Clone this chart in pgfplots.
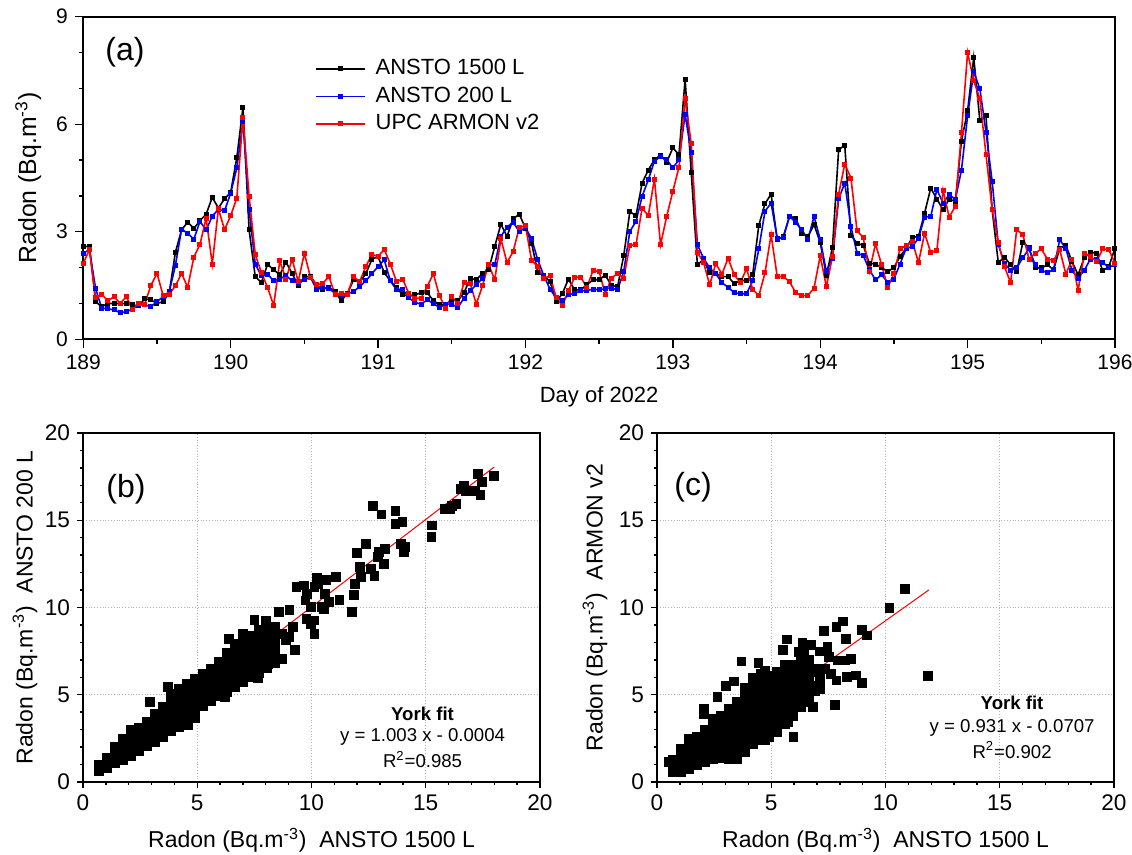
\documentclass[border=0pt]{standalone}
\usepackage{fontspec}
\setmainfont{Liberation Sans}
\usepackage{pgfplots}
\usepackage{pgfplotstable}
\pgfplotsset{compat=1.18}

% hour index h (day = 189 + h/24); a = ANSTO 1500 L, b = ANSTO 200 L, c = UPC ARMON v2
\pgfplotstableread{
h a b c
0 2.59 2.40 2.12
1 2.59 2.50 2.50
2 1.05 1.42 1.16
3 0.91 0.87 1.26
4 1.00 0.85 1.07
5 1.00 0.82 1.19
6 1.00 0.74 1.00
7 0.99 0.77 1.19
8 0.96 0.84 0.84
9 0.93 0.96 0.99
10 1.13 0.96 0.98
11 1.10 0.91 1.50
12 1.00 1.05 1.84
13 1.05 1.19 1.22
14 1.30 1.33 1.26
15 2.43 2.06 1.49
16 3.05 3.07 1.84
17 3.27 2.96 1.45
18 3.09 2.79 2.29
19 3.31 3.29 2.65
20 3.49 3.05 3.38
21 3.96 3.43 2.10
22 3.66 3.63 3.64
23 3.92 3.58 3.06
24 4.10 4.08 3.45
25 5.07 4.78 3.94
26 6.47 6.08 6.20
27 3.05 3.61 3.99
28 1.75 2.10 2.37
29 1.58 1.77 1.86
30 2.09 1.82 1.45
31 1.94 1.63 0.94
32 1.80 1.68 2.19
33 2.15 1.78 1.68
34 1.84 1.63 2.23
35 1.50 1.56 1.61
36 1.75 1.66 2.40
37 1.75 1.73 1.73
38 1.52 1.38 1.52
39 1.40 1.45 1.56
40 1.45 1.42 1.75
41 1.33 1.28 1.24
42 1.08 1.21 1.28
43 1.27 1.27 1.26
44 1.66 1.33 1.75
45 1.59 1.47 1.61
46 1.83 1.63 2.03
47 2.23 1.83 2.37
48 2.31 2.03 2.31
49 1.86 2.22 2.51
50 1.63 1.63 2.10
51 1.45 1.38 1.61
52 1.24 1.40 1.68
53 1.21 1.16 1.28
54 1.24 1.03 1.15
55 1.30 0.98 1.15
56 1.30 1.10 1.47
57 1.08 1.00 1.83
58 0.96 0.89 1.21
59 0.96 0.98 0.87
60 1.12 0.98 1.19
61 1.08 0.89 0.99
62 1.30 1.15 1.58
63 1.70 1.36 1.56
64 1.66 1.52 0.98
65 1.84 1.70 1.49
66 1.94 2.08 2.09
67 2.59 2.08 1.66
68 3.21 2.87 2.80
69 2.87 3.13 2.14
70 3.36 3.27 2.45
71 3.49 3.00 3.12
72 3.10 3.12 3.17
73 2.68 2.80 2.20
74 1.87 2.22 2.03
75 1.77 1.77 1.70
76 1.61 1.40 1.77
77 1.05 1.16 1.17
78 1.27 1.07 0.94
79 1.68 1.24 1.35
80 1.38 1.28 1.73
81 1.38 1.35 1.73
82 1.52 1.36 1.45
83 1.66 1.40 1.92
84 1.66 1.38 1.89
85 1.79 1.41 1.26
86 1.50 1.43 1.71
87 1.47 1.38 1.83
88 2.33 1.89 1.71
89 3.56 3.01 2.62
90 3.45 3.29 2.64
91 4.36 3.99 3.66
92 4.72 4.45 3.45
93 5.01 4.97 4.47
94 5.14 5.10 2.64
95 4.94 5.01 3.43
96 5.34 4.78 4.13
97 5.15 5.01 4.80
98 7.25 6.27 6.72
99 4.64 5.20 5.45
100 2.08 2.64 2.42
101 2.22 2.26 2.15
102 1.85 1.99 1.52
103 1.83 1.83 2.11
104 1.75 1.58 1.82
105 1.75 1.45 2.26
106 1.55 1.30 1.80
107 1.64 1.27 1.58
108 1.64 1.27 1.97
109 1.80 1.63 1.40
110 3.18 2.52 1.21
111 3.78 3.57 1.85
112 4.05 3.80 2.92
113 2.78 2.82 1.75
114 2.87 2.84 1.75
115 3.43 3.43 1.61
116 3.38 3.26 1.30
117 2.96 3.06 1.22
118 2.87 2.78 1.22
119 3.20 3.43 1.43
120 2.70 2.78 2.33
121 1.78 1.89 1.47
122 2.57 2.26 2.31
123 5.29 3.92 4.05
124 5.41 4.36 4.89
125 2.90 3.15 4.50
126 2.68 2.40 3.03
127 2.62 2.34 2.84
128 2.12 1.94 1.89
129 2.10 1.66 2.66
130 2.00 1.80 2.08
131 1.89 1.59 1.45
132 2.00 1.68 1.83
133 2.31 2.10 2.53
134 2.54 2.54 2.61
135 2.84 2.59 2.73
136 2.87 2.82 2.14
137 3.52 3.41 2.96
138 4.22 3.43 2.42
139 3.91 4.18 2.48
140 3.62 3.80 4.16
141 3.91 4.04 3.41
142 3.85 3.90 3.71
143 5.53 4.72 5.76
144 6.37 6.23 8.00
145 7.86 7.46 7.22
146 6.10 6.99 6.71
147 6.23 5.78 5.15
148 3.62 4.41 3.62
149 2.14 2.64 2.71
150 2.29 2.12 2.03
151 2.08 1.92 1.58
152 1.89 1.99 3.06
153 2.71 2.28 2.92
154 2.56 2.52 2.24
155 1.99 2.08 2.40
156 1.99 1.92 2.52
157 2.08 1.86 2.24
158 1.94 1.94 2.20
159 2.54 2.78 2.50
160 2.62 2.53 1.82
161 2.17 1.92 2.22
162 1.80 1.71 1.36
163 2.27 1.92 2.39
164 2.43 2.24 2.31
165 2.40 2.24 2.17
166 1.91 2.14 2.52
167 2.03 2.01 2.50
168 2.54 2.08 2.12
}\tsdata

% (b) ANSTO 1500 L (x) vs ANSTO 200 L (y)
\pgfplotstableread{
x y
0.7 0.65
0.7 1.0
1.05 0.8
1.05 1.1
1.05 1.4
1.4 1.1
1.4 1.55
1.4 2.0
1.75 1.25
1.75 1.6
1.75 2.05
1.75 2.5
2.1 1.5
2.1 1.9
2.1 2.4
2.1 2.8
2.1 3.0
2.45 1.8
2.45 2.17
2.45 2.65
2.45 3.1
2.8 2.05
2.8 2.44
2.8 2.95
2.8 3.45
3.15 2.3
3.15 2.72
3.15 3.2
3.15 3.65
3.15 3.9
3.5 2.6
3.5 3.0
3.5 3.45
3.5 3.9
3.5 4.3
3.85 2.9
3.85 3.26
3.85 3.75
3.85 4.25
3.85 4.7
3.85 5.05
4.2 3.15
4.2 3.54
4.2 4.0
4.2 4.5
4.2 5.0
4.2 5.35
4.55 3.4
4.55 3.81
4.55 4.3
4.55 4.8
4.55 5.3
4.55 5.6
4.9 3.65
4.9 4.08
4.9 4.55
4.9 5.05
4.9 5.55
4.9 5.9
5.25 4.36
5.25 4.85
5.25 5.35
5.25 5.8
5.25 6.2
5.6 4.63
5.6 5.1
5.6 5.6
5.6 6.1
5.6 6.5
5.95 4.9
5.95 5.4
5.95 5.9
5.95 6.4
5.95 6.9
6.3 5.17
6.3 5.65
6.3 6.15
6.3 6.65
6.3 7.1
6.3 7.4
6.65 5.45
6.65 5.95
6.65 6.45
6.65 6.95
6.65 7.45
6.65 7.9
7.0 5.72
7.0 6.2
7.0 6.7
7.0 7.2
7.0 7.7
7.0 8.1
7.35 6.0
7.35 6.5
7.35 7.0
7.35 7.5
7.35 8.0
7.35 8.4
7.7 6.27
7.7 6.75
7.7 7.25
7.7 7.75
7.7 8.25
7.7 8.7
8.05 6.54
8.05 7.0
8.05 7.5
8.05 8.0
8.05 8.5
8.05 8.9
8.4 6.81
8.4 7.3
8.4 7.8
8.4 8.3
8.4 8.8
12.70 15.80
13.06 15.34
13.67 15.53
13.67 14.80
13.98 14.90
15.28 14.70
15.25 14.04
15.83 15.66
16.14 15.80
16.34 15.95
16.06 15.66
16.53 16.80
16.66 17.00
16.77 16.68
17.16 16.68
17.28 17.67
17.47 17.19
17.39 16.43
17.98 17.52
12.39 13.66
12.94 13.18
13.20 13.37
13.17 12.51
12.90 12.90
13.90 13.66
14.03 13.18
14.10 13.47
11.97 13.12
12.13 12.32
12.59 12.23
12.75 11.80
12.16 11.75
11.89 11.37
11.84 10.70
11.77 9.74
11.22 10.45
11.06 11.75
10.64 11.60
10.25 11.71
10.28 11.37
10.60 10.80
10.56 9.93
10.13 11.17
9.66 11.27
9.34 11.17
9.73 10.41
9.97 10.03
10.13 8.50
9.97 9.07
9.78 9.36
9.27 7.55
9.03 9.84
8.56 9.74
8.02 9.26
7.50 9.30
8.40 8.88
8.88 8.12
9.03 8.31
8.72 7.07
7.66 5.96
6.22 4.87
3.72 5.44
4.58 3.25
2.94 4.58
6.38 8.21
7.00 8.50
7.31 8.31
8.25 7.35
8.09 6.78
9.19 8.88
8.72 8.50
10.13 9.26
10.44 10.03
10.75 10.32
9.81 10.79
}\scatb

% (c) ANSTO 1500 L (x) vs ARMON v2 (y)
\pgfplotstableread{
x y
0.7 0.55
0.7 1.0
0.7 1.3
1.05 0.6
1.05 1.05
1.05 1.5
1.05 1.9
1.4 0.75
1.4 1.2
1.4 1.7
1.4 2.2
1.4 2.5
1.75 0.95
1.75 1.4
1.75 1.9
1.75 2.35
1.75 2.6
2.1 1.15
2.1 1.6
2.1 2.1
2.1 2.55
2.1 3.0
2.45 1.3
2.45 1.8
2.45 2.3
2.45 2.75
2.45 3.2
2.45 3.6
2.8 1.4
2.8 1.9
2.8 2.4
2.8 2.9
2.8 3.4
2.8 3.8
3.15 1.3
3.15 1.8
3.15 2.3
3.15 2.8
3.15 3.3
3.15 3.8
3.15 4.2
3.5 1.3
3.5 1.6
3.5 2.1
3.5 2.6
3.5 3.1
3.5 3.6
3.5 4.1
3.5 4.6
3.85 1.7
3.85 2.0
3.85 2.5
3.85 3.0
3.85 3.5
3.85 4.0
3.85 4.5
3.85 5.0
3.85 5.4
4.2 2.2
4.2 2.7
4.2 3.2
4.2 3.7
4.2 4.2
4.2 4.7
4.2 5.2
4.2 5.6
4.55 2.4
4.55 2.9
4.55 3.4
4.55 3.9
4.55 4.4
4.55 4.9
4.55 5.4
4.55 5.8
4.55 6.2
4.9 2.6
4.9 3.1
4.9 3.6
4.9 4.1
4.9 4.6
4.9 5.1
4.9 5.6
4.9 6.1
5.25 2.9
5.25 3.4
5.25 3.9
5.25 4.4
5.25 4.9
5.25 5.4
5.25 5.9
5.25 6.3
5.6 3.3
5.6 3.8
5.6 4.3
5.6 4.8
5.6 5.3
5.6 5.8
5.6 6.3
5.6 6.7
5.95 3.8
5.95 4.3
5.95 4.8
5.95 5.3
5.95 5.8
5.95 6.3
5.95 6.7
6.3 4.3
6.3 4.8
6.3 5.3
6.3 5.8
6.3 6.3
6.3 6.7
6.3 7.0
6.65 4.6
6.65 5.1
6.65 5.6
6.65 6.1
6.65 6.6
6.65 7.0
7.0 5.5
7.0 6.3
7.35 6.5
7.6 6.2
0.52 1.15
2.04 4.20
2.04 3.91
2.64 4.87
3.03 5.53
3.38 5.76
3.69 6.91
4.44 6.83
4.71 6.39
4.21 5.95
5.51 7.56
5.68 8.17
6.20 7.44
6.36 7.98
6.72 7.86
6.44 7.44
7.14 7.48
7.30 8.64
7.85 8.91
8.15 9.20
7.54 7.16
7.46 7.73
7.93 6.97
8.24 6.97
8.48 7.06
8.27 8.21
8.95 8.72
9.18 8.40
8.71 6.11
8.95 5.69
8.32 6.01
7.85 5.82
7.14 5.92
6.91 5.19
6.83 4.30
7.77 4.43
5.97 2.58
5.73 3.43
5.26 2.86
4.71 2.39
10.17 9.98
10.86 11.07
11.85 6.07
6.67 6.87
6.99 6.49
7.14 5.34
}\scatc

\begin{document}
\begin{tikzpicture}
\path[use as bounding box] (0,0) rectangle (566pt,-427.5pt);
\pgfplotsset{
  every axis/.append style={
    scale only axis,
    axis line style={line width=0.9pt},
    every tick/.style={line width=0.7pt, black},
    tick align=outside,
    xtick pos=bottom, ytick pos=left,
    /pgf/number format/assume math mode=true,
    clip=true,
  },
}
% ---------------- (a) ----------------
\begin{axis}[
  at={(41.65pt,-169.65pt)}, anchor=south west,
  width=515.85pt, height=161.3pt,
  xmin=189, xmax=196, ymin=0, ymax=9,
  xtick={189,190,...,196}, ytick={0,3,6,9},
  minor x tick num=1, minor y tick num=2,
  major tick length=4.2pt, minor tick length=2.2pt,
  ticklabel style={font=\fontsize{10.5}{12}\selectfont},
  xlabel={Day of 2022},
  ylabel={Radon (Bq.m\textsuperscript{-3})},
  xlabel style={font=\fontsize{11}{13}\selectfont, at={(axis description cs:0.5,-0.1944)}, anchor=base},
  ylabel style={font=\fontsize{12.4}{14}\selectfont, at={(axis description cs:-0.0533,0.5)}, anchor=center},
  legend style={at={(axis cs:190.57,7.89)}, anchor=north west, draw=none, fill=none,
    font=\fontsize{11}{13}\selectfont, inner sep=0pt, row sep=1.75pt, column sep=4pt,
    nodes={inner sep=1pt, text height=8pt, text depth=2pt}},
  legend cell align=left,
  legend image code/.code={\draw[mark repeat=2,mark phase=2,#1] plot coordinates {(0cm,0cm) (0.43cm,0cm) (0.86cm,0cm)};},
]
\addplot[black, line width=0.8pt, mark=square*, mark size=0.85pt] table[x expr=189+\thisrow{h}/24, y=a] {\tsdata};
\addlegendentry{ANSTO 1500 L}
\addplot[blue, line width=0.8pt, mark=square*, mark size=0.85pt] table[x expr=189+\thisrow{h}/24, y=b] {\tsdata};
\addlegendentry{ANSTO 200 L}
\addplot[red, line width=0.8pt, mark=square*, mark size=0.85pt] table[x expr=189+\thisrow{h}/24, y=c] {\tsdata};
\addlegendentry{UPC ARMON v2}
\node[font=\fontsize{16}{18}\selectfont] at (axis cs:189.283,8.0) {(a)};
\end{axis}
% ---------------- (b) ----------------
\begin{axis}[
  at={(41.5pt,-391pt)}, anchor=south west,
  width=228.5pt, height=174.5pt,
  xmin=0, xmax=20, ymin=0, ymax=20,
  xtick={0,5,...,20}, ytick={0,5,...,20},
  minor x tick num=4, minor y tick num=4,
  major tick length=3pt, minor tick length=1.5pt,
  axis line style={line width=0.8pt},
  grid=major, grid style={densely dotted, gray!60, line width=0.5pt},
  ticklabel style={font=\fontsize{11.3}{13}\selectfont},
  label style={font=\fontsize{11.5}{13}\selectfont},
  xlabel={Radon (Bq.m\textsuperscript{-3})\hspace{0.55em}ANSTO 1500 L},
  ylabel={Radon (Bq.m\textsuperscript{-3})\hspace{0.55em}ANSTO 200 L},
  xlabel style={at={(axis description cs:0.5,-0.189)}, anchor=base},
  ylabel style={at={(axis description cs:-0.127,0.5)}, anchor=center},
]
\addplot[only marks, mark=square*, mark size=2.2pt, black] table[x=x, y=y] {\scatb};
\addplot[red, line width=0.5pt] coordinates {(0.6,0.6014) (18.0,18.0536)};
\node[font=\fontsize{16}{18}\selectfont] at (axis cs:1.88,16.78) {(b)};
\node[font=\bfseries\fontsize{9.3}{11}\selectfont, anchor=base] at (axis cs:14.86,3.55) {York fit};
\node[font=\fontsize{9.3}{11}\selectfont, anchor=base] at (axis cs:14.86,2.31) {y = 1.003 x - 0.0004};
\node[font=\fontsize{9.3}{11}\selectfont, anchor=base] at (axis cs:14.86,0.82) {R\textsuperscript{2}=0.985};
\end{axis}
% ---------------- (c) ----------------
\begin{axis}[
  at={(328.5pt,-391pt)}, anchor=south west,
  width=228.5pt, height=174.5pt,
  xmin=0, xmax=20, ymin=0, ymax=20,
  xtick={0,5,...,20}, ytick={0,5,...,20},
  minor x tick num=4, minor y tick num=4,
  major tick length=3pt, minor tick length=1.5pt,
  axis line style={line width=0.8pt},
  grid=major, grid style={densely dotted, gray!60, line width=0.5pt},
  ticklabel style={font=\fontsize{11.3}{13}\selectfont},
  label style={font=\fontsize{11.5}{13}\selectfont},
  xlabel={Radon (Bq.m\textsuperscript{-3})\hspace{0.55em}ANSTO 1500 L},
  ylabel={Radon (Bq.m\textsuperscript{-3})\hspace{0.55em}ARMON v2},
  xlabel style={at={(axis description cs:0.5,-0.189)}, anchor=base},
  ylabel style={at={(axis description cs:-0.1357,0.5)}, anchor=center},
]
\addplot[only marks, mark=square*, mark size=2.2pt, black] table[x=x, y=y] {\scatc};
\addplot[red, line width=0.5pt] coordinates {(0.6,0.4879) (11.9,11.0082)};
\node[font=\fontsize{16}{18}\selectfont] at (axis cs:1.58,16.9) {(c)};
\node[font=\bfseries\fontsize{9.3}{11}\selectfont, anchor=base] at (axis cs:15.54,4.13) {York fit};
\node[font=\fontsize{9.3}{11}\selectfont, anchor=base] at (axis cs:15.54,2.81) {y = 0.931 x - 0.0707};
\node[font=\fontsize{9.3}{11}\selectfont, anchor=base] at (axis cs:15.54,1.375) {R\textsuperscript{2}=0.902};
\end{axis}
\end{tikzpicture}
\end{document}
